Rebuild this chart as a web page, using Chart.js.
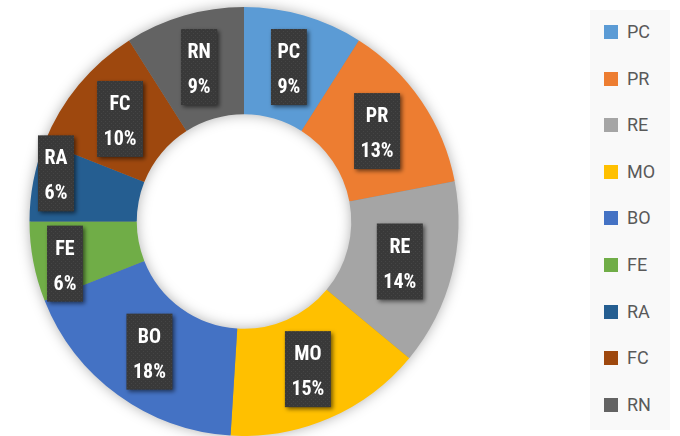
<!DOCTYPE html>
<html>
<head>
<meta charset="utf-8">
<script src="https://cdn.jsdelivr.net/npm/chart.js@4/dist/chart.umd.min.js"></script>
<style>
  html, body { margin: 0; padding: 0; background: #fff; }
  #wrap { position: relative; width: 680px; height: 436px; overflow: hidden; }
  #chartBox { position: absolute; left: 0; top: 0; width: 488px; height: 436px; }
  #legend { position: absolute; left: 590px; top: 10px; width: 80px; height: 420px; background: #f9f9f9; }
  .item { position: absolute; left: 0; height: 20px; width: 80px; }
  .item .sw { position: absolute; left: 14px; top: 3px; width: 14px; height: 14px; }
  .item .tx { position: absolute; left: 37px; top: -1px; font: 18px Roboto, "Open Sans", sans-serif; color: #595959; line-height: 22px; }
</style>
</head>
<body>
<div id="wrap">
  <div id="chartBox"><canvas id="chartDonut"></canvas></div>
  <div id="legend"></div>
</div>
<script>
const labels = ["PC", "PR", "RE", "MO", "BO", "FE", "RA", "FC", "RN"];
const shares = [9, 13, 14, 15, 18, 6, 6, 10, 9];
const colors = ["#5B9BD5", "#ED7D31", "#A5A5A5", "#FFC000", "#4472C4", "#70AD47", "#255E91", "#9E480E", "#636363"];

// dotted dark texture for the label boxes
const dots = document.createElement("canvas");
dots.width = 4; dots.height = 4;
const dctx = dots.getContext("2d");
dctx.fillStyle = "#393939";
dctx.fillRect(0, 0, 4, 4);
dctx.fillStyle = "#454545";
dctx.fillRect(1, 1, 1, 1);
dctx.fillRect(3, 3, 1, 1);

// soft glow under the ring
const ringShadow = {
  id: "ringShadow",
  beforeDatasetsDraw(chart) {
    const arc = chart.getDatasetMeta(0).data[0];
    if (!arc) return;
    const ctx = chart.ctx;
    ctx.save();
    ctx.beginPath();
    ctx.arc(arc.x, arc.y, arc.outerRadius - 1, 0, Math.PI * 2);
    ctx.arc(arc.x, arc.y, arc.innerRadius + 1, 0, Math.PI * 2, true);
    ctx.shadowColor = "rgba(0,0,0,0.35)";
    ctx.shadowBlur = 14;
    ctx.fillStyle = "#888";
    ctx.fill("evenodd");
    ctx.restore();
  }
};

// the two small slices have their labels pulled apart, like the original
const nudge = { FE: [-21, 12], RA: [-30, -18] };

// dark callout boxes with name and percent
const boxLabels = {
  id: "boxLabels",
  afterDatasetsDraw(chart) {
    const ctx = chart.ctx;
    const pattern = ctx.createPattern(dots, "repeat");
    chart.getDatasetMeta(0).data.forEach((arc, i) => {
      const p = arc.getCenterPoint();
      const d = nudge[labels[i]] || [0, 0];
      const cx = p.x + d[0], cy = p.y + d[1];
      const l1 = labels[i];
      const l2 = shares[i] + "%";
      ctx.save();
      ctx.font = 'bold 20px "Liberation Sans Narrow", "Roboto Condensed", Roboto, sans-serif';
      const w = Math.max(ctx.measureText(l1).width, ctx.measureText(l2).width) + 13;
      const h = 76;
      const x = cx - w / 2, y = cy - h / 2;
      ctx.shadowColor = "rgba(0,0,0,0.55)";
      ctx.shadowBlur = 4;
      ctx.shadowOffsetX = 2;
      ctx.shadowOffsetY = 2;
      ctx.fillStyle = pattern;
      ctx.fillRect(x, y, w, h);
      ctx.shadowColor = "transparent";
      ctx.fillStyle = "#ffffff";
      ctx.textAlign = "center";
      ctx.textBaseline = "alphabetic";
      ctx.fillText(l1, cx, y + 29);
      ctx.fillText(l2, cx, y + 64);
      ctx.restore();
    });
  }
};

const chartDonut = new Chart("chartDonut", {
  type: "doughnut",
  data: {
    labels: labels,
    datasets: [
      {
        data: shares,
        backgroundColor: colors,
        borderWidth: 0,
      },
    ],
  },
  options: {
    responsive: true,
    maintainAspectRatio: false,
    animation: false,
    cutout: "50%",
    layout: { padding: { top: 7, bottom: 0, left: 0, right: 0 } },
    plugins: {
      legend: { display: false },
      tooltip: { enabled: false },
    },
  },
  plugins: [ringShadow, boxLabels],
});

// legend built from the same arrays
const legend = document.getElementById("legend");
labels.forEach((name, i) => {
  const row = document.createElement("div");
  row.className = "item";
  row.style.top = (12 + i * 46.6) + "px";
  row.innerHTML = '<div class="sw" style="background:' + colors[i] + '"></div><div class="tx">' + name + '</div>';
  legend.appendChild(row);
});
</script>
</body>
</html>
